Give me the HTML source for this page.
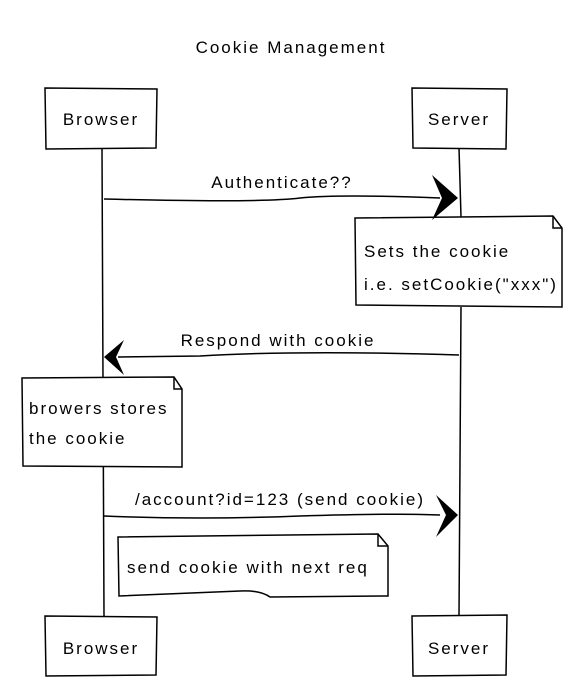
<!DOCTYPE html>
<html><head><style>
html,body{margin:0;padding:0;background:#fff;}
svg{display:block;}
text{font-family:"Liberation Sans",sans-serif;font-size:17px;letter-spacing:2px;fill:#000;}
</style></head><body>
<svg width="588" height="680" viewBox="0 0 588 680" xmlns="http://www.w3.org/2000/svg">
<g fill="none" stroke="#000" stroke-width="1.5">
<path d="M102 148 L104 616"/>
<path d="M459 148 L461 217 M461 307 L459 616"/>
<path d="M45 88 L157 89 L156 148 L46 149 Z" fill="#fff"/>
<path d="M412 88 L507 89 L506 149 L413 148 Z" fill="#fff"/>
<path d="M45 616 L157 617 L156 675 L46 676 Z" fill="#fff"/>
<path d="M412 616 L507 615 L506 675 L413 676 Z" fill="#fff"/>
<path d="M104 199 Q260 203 300 198 Q340 194 440 198"/>
<path d="M355 218 L553 216 L562 228 L562 307 L356 305 Z" fill="#fff"/>
<path d="M553 216 L553 228 L562 228"/>
<path d="M459 355 Q300 350 200 356 L118 357"/>
<path d="M22 378 L174 377 L182 389 L182 467 L23 466 Z" fill="#fff"/>
<path d="M174 377 L174 389 L182 389"/>
<path d="M104 516 Q200 520 300 516 Q400 513 440 515"/>
<path d="M118 537 L378 534 L388 546 L388 596 L270 597 Q260 590 240 591 L119 596 Z" fill="#fff"/>
<path d="M378 534 L378 546 L388 546"/>
</g>
<g fill="#000">
<path d="M458 198 L432 175 L442 198 L432 220 Z"/>
<path d="M104 357 L124 340 L116 357 L124 375 Z"/>
<path d="M458 515 L436 495 L446 515 L436 537 Z"/>
</g>
<text x="291" y="53" text-anchor="middle">Cookie Management</text>
<text x="101" y="125" text-anchor="middle">Browser</text>
<text x="459" y="125" text-anchor="middle">Server</text>
<text x="101" y="654" text-anchor="middle">Browser</text>
<text x="459" y="654" text-anchor="middle">Server</text>
<text x="282" y="188" text-anchor="middle">Authenticate??</text>
<text x="364" y="257">Sets the cookie</text>
<text x="364" y="290">i.e. setCookie("xxx")</text>
<text x="278" y="346" text-anchor="middle">Respond with cookie</text>
<text x="29" y="414">browers stores</text>
<text x="29" y="444">the cookie</text>
<text x="280" y="505" text-anchor="middle">/account?id=123 (send cookie)</text>
<text x="127" y="573">send cookie with next req</text>
</svg>
</body></html>
